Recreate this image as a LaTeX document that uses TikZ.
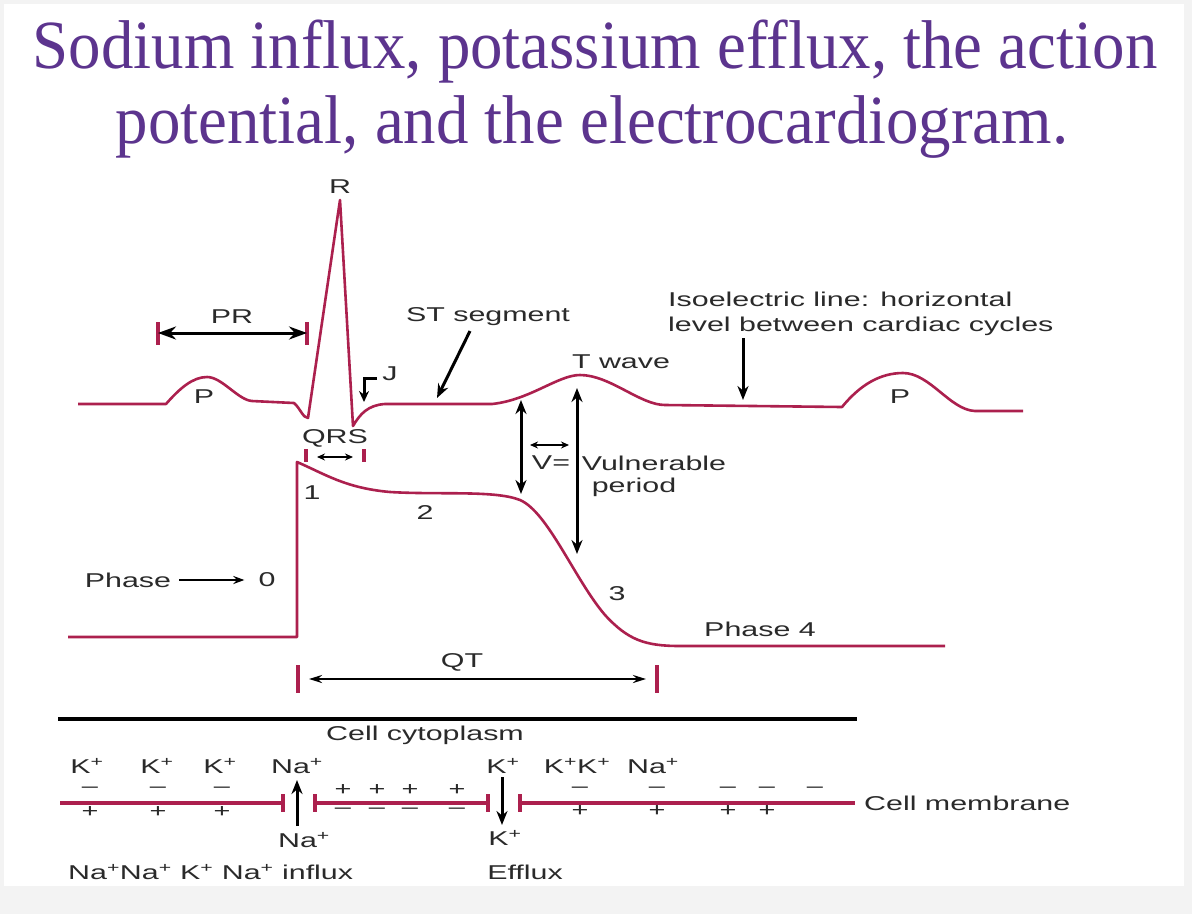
\documentclass[tikz,border=0pt]{standalone}
\usepackage{fontspec}
\usetikzlibrary{arrows.meta}
\newfontfamily\diagfont[FakeStretch=1.52]{Liberation Sans}
\newfontfamily\titlefont[FakeStretch=0.94]{Liberation Serif}
\definecolor{crim}{RGB}{172,32,78}
\definecolor{ttl}{RGB}{92,52,142}
\definecolor{labc}{RGB}{42,42,42}
\definecolor{bggray}{RGB}{243,243,243}
\tikzset{
  trace/.style={draw=crim, line width=2.6pt, line join=round},
  bar/.style={draw=crim, line width=3.8pt},
  memb/.style={draw=crim, line width=3.4pt},
  arr/.style={draw=black, line width=3pt, -{Stealth[length=14pt,width=11pt]}},
  arrboth/.style={draw=black, line width=3pt, {Stealth[length=14pt,width=11pt]}-{Stealth[length=14pt,width=11pt]}},
  arrbig/.style={draw=black, line width=3pt, {Stealth[length=18pt,width=13pt]}-{Stealth[length=18pt,width=13pt]}},
  arrsmall/.style={draw=black, line width=1.8pt, {Stealth[length=8pt,width=7pt]}-{Stealth[length=8pt,width=7pt]}},
  lab/.style={font=\diagfont\fontsize{20}{25}\selectfont, text=labc, inner sep=0pt},
  sgn/.style={font=\diagfont\fontsize{19}{20}\selectfont, text=labc, inner sep=0pt},
  ttlstyle/.style={font=\titlefont\fontsize{69}{80}\selectfont, text=ttl, inner sep=0pt, anchor=base},
}
\begin{document}
\begin{tikzpicture}[x=1pt,y=-1pt]
\useasboundingbox (0,0) rectangle (1192,914);
\fill[bggray] (0,0) rectangle (1192,914);
\fill[white] (4,4) rectangle (1184,886);

% title
\node[ttlstyle] (t1) at (595,68) {Sodium influx, potassium efflux, the action};
\node[ttlstyle] (t2) at (592,143) {potential, and the electrocardiogram.};

% ECG trace
\draw[trace] (78,404) -- (166,404) .. controls (180,388) and (193,377) .. (207,377)
  .. controls (222,377) and (238,400) .. (252,401) -- (294,403)
  .. controls (300,408) and (303,418) .. (308,418) -- (340,200) -- (353,426)
  .. controls (360,414) and (368,405) .. (385,404) -- (492,404)
  .. controls (530,400) and (558,375) .. (580,375)
  .. controls (610,375) and (640,405) .. (665,405) -- (842,407)
  .. controls (860,385) and (880,373) .. (903,373)
  .. controls (930,373) and (950,410) .. (975,411) -- (1023,411);

\node[lab] (R) at (340,187) {R};
\node[lab] (P1) at (204,397) {P};
\node[lab] (P2) at (900,397) {P};

% PR
\coordinate (prl) at (158,333);
\coordinate (prr) at (307,333);
\draw[bar] (158,322) -- (158,345);
\draw[bar] (307,322) -- (307,345);
\draw[arrbig] (prl) -- (prr);
\node[lab] (PR) at (232,317) {PR};

% J
\node[lab] (J) at (390,374) {J};
\coordinate (j1) at (377,378);
\coordinate (j2) at (364,378);
\coordinate (j3) at (364,402);
\draw[draw=black, line width=3pt, -{Stealth[length=11pt,width=10pt]}] (j1) -- (j2) -- (j3);

% QRS
\node[lab] (QRS) at (335,438) {QRS};
\draw[bar] (306,449) -- (306,462);
\draw[bar] (364,449) -- (364,462);
\coordinate (q1) at (317,457);
\coordinate (q2) at (353,457);
\draw[arrsmall] (q1) -- (q2);

% ST segment
\node[lab] (ST) at (488,317) {ST segment};
\coordinate (st1) at (470,331);
\coordinate (st2) at (437,398);
\draw[arr] (st1) -- (st2);

% T wave
\node[lab] (TW) at (621,362) {T wave};

% isoelectric
\node[lab, anchor=base west] (iso1) at (668,306) {Isoelectric line: horizontal};
\node[lab, anchor=base west] (iso2) at (668,331) {level between cardiac cycles};
\coordinate (is1) at (743,338);
\coordinate (is2) at (743,400);
\draw[arr] (is1) -- (is2);

% vulnerable period
\coordinate (va1) at (521,400);
\coordinate (va2) at (521,494);
\draw[arrboth] (va1) -- (va2);
\coordinate (vb1) at (577,388);
\coordinate (vb2) at (577,554);
\draw[arrboth] (vb1) -- (vb2);
\coordinate (vc1) at (530,445);
\coordinate (vc2) at (569,445);
\draw[arrsmall] (vc1) -- (vc2);
\node[lab] (Veq) at (551,463) {V=};
\node[lab] (Vul) at (654,463) {Vulnerable};
\node[lab] (Vper) at (634,487) {period};

% action potential
\draw[trace] (68,637) -- (297,637) -- (297,462)
  .. controls (325,474) and (345,488) .. (390,492)
  .. controls (440,495) and (495,490) .. (520,500)
  .. controls (548,512) and (575,580) .. (605,615)
  .. controls (628,640) and (645,646) .. (680,646) -- (945,646);

\node[lab] (ph1) at (312,493) {1};
\node[lab] (ph2) at (425,513) {2};
\node[lab] (ph3) at (617,594) {3};
\node[lab] (ph4) at (760,629) {Phase 4};
\node[lab] (ph0l) at (128,580) {Phase};
\node[lab] (ph0) at (267,580) {0};
\draw[draw=black, line width=2.2pt, -{Stealth[length=11pt,width=8pt]}] (ph0l.east) ++(8,0) -- ([xshift=-14pt]ph0.west);

% QT
\draw[bar] (298,665) -- (298,693);
\draw[bar] (657,665) -- (657,693);
\coordinate (qt1) at (309,679);
\coordinate (qt2) at (646,679);
\draw[draw=black, line width=2.2pt, {Stealth[length=13pt,width=8pt]}-{Stealth[length=13pt,width=8pt]}] (qt1) -- (qt2);
\node[lab] (QT) at (462,662) {QT};

% separator
\draw[line width=3.4pt] (58,719) -- (857,719);

% membrane
\node[lab] (cyto) at (425,735) {Cell cytoplasm};
\draw[memb] (60,803) -- (283,803);
\draw[bar] (283,794) -- (283,812);
\draw[memb] (315,803) -- (488,803);
\draw[bar] (315,794) -- (315,812);
\draw[bar] (488,794) -- (488,812);
\draw[memb] (520,803) -- (855,803);
\draw[bar] (520,794) -- (520,812);
\node[lab, anchor=west] (cm) at (864,803) {Cell membrane};

\coordinate (na1) at (297,826);
\coordinate (na2) at (297,780);
\draw[arr] (na1) -- (na2);
\coordinate (k1) at (502,777);
\coordinate (k2) at (502,825);
\draw[arr] (k1) -- (k2);

% ions top
\node[lab] (ka) at (87,766) {K\textsuperscript{+}};
\node[lab] (kb) at (157,766) {K\textsuperscript{+}};
\node[lab] (kc) at (220,766) {K\textsuperscript{+}};
\node[lab] (naa) at (297,766) {Na\textsuperscript{+}};
\node[lab] (kd) at (503,766) {K\textsuperscript{+}};
\node[lab] (ke) at (577,766) {K\textsuperscript{+}K\textsuperscript{+}};
\node[lab] (nab) at (653,766) {Na\textsuperscript{+}};

% signs
\foreach \x [count=\i] in {90,158,222} {
  \node[sgn] (ml\i) at (\x,790) {–};
  \node[sgn] (pl\i) at (\x,812) {+};
}
\foreach \x [count=\i] in {343,377,410,457} {
  \node[sgn] (pm\i) at (\x,790) {+};
  \node[sgn] (mm\i) at (\x,811) {–};
}
\foreach \x [count=\i] in {580,657,728,767} {
  \node[sgn] (mr\i) at (\x,790) {–};
  \node[sgn] (pr\i) at (\x,811) {+};
}
\node[sgn] (mr5) at (815,790) {–};

% ions bottom
\node[lab] (nac) at (304,840) {Na\textsuperscript{+}};
\node[lab] (kf) at (505,838) {K\textsuperscript{+}};
\node[lab, anchor=west] (influx) at (68,872) {Na\textsuperscript{+}Na\textsuperscript{+} K\textsuperscript{+} Na\textsuperscript{+} influx};
\node[lab] (efflux) at (525,872) {Efflux};
\end{tikzpicture}
\end{document}
